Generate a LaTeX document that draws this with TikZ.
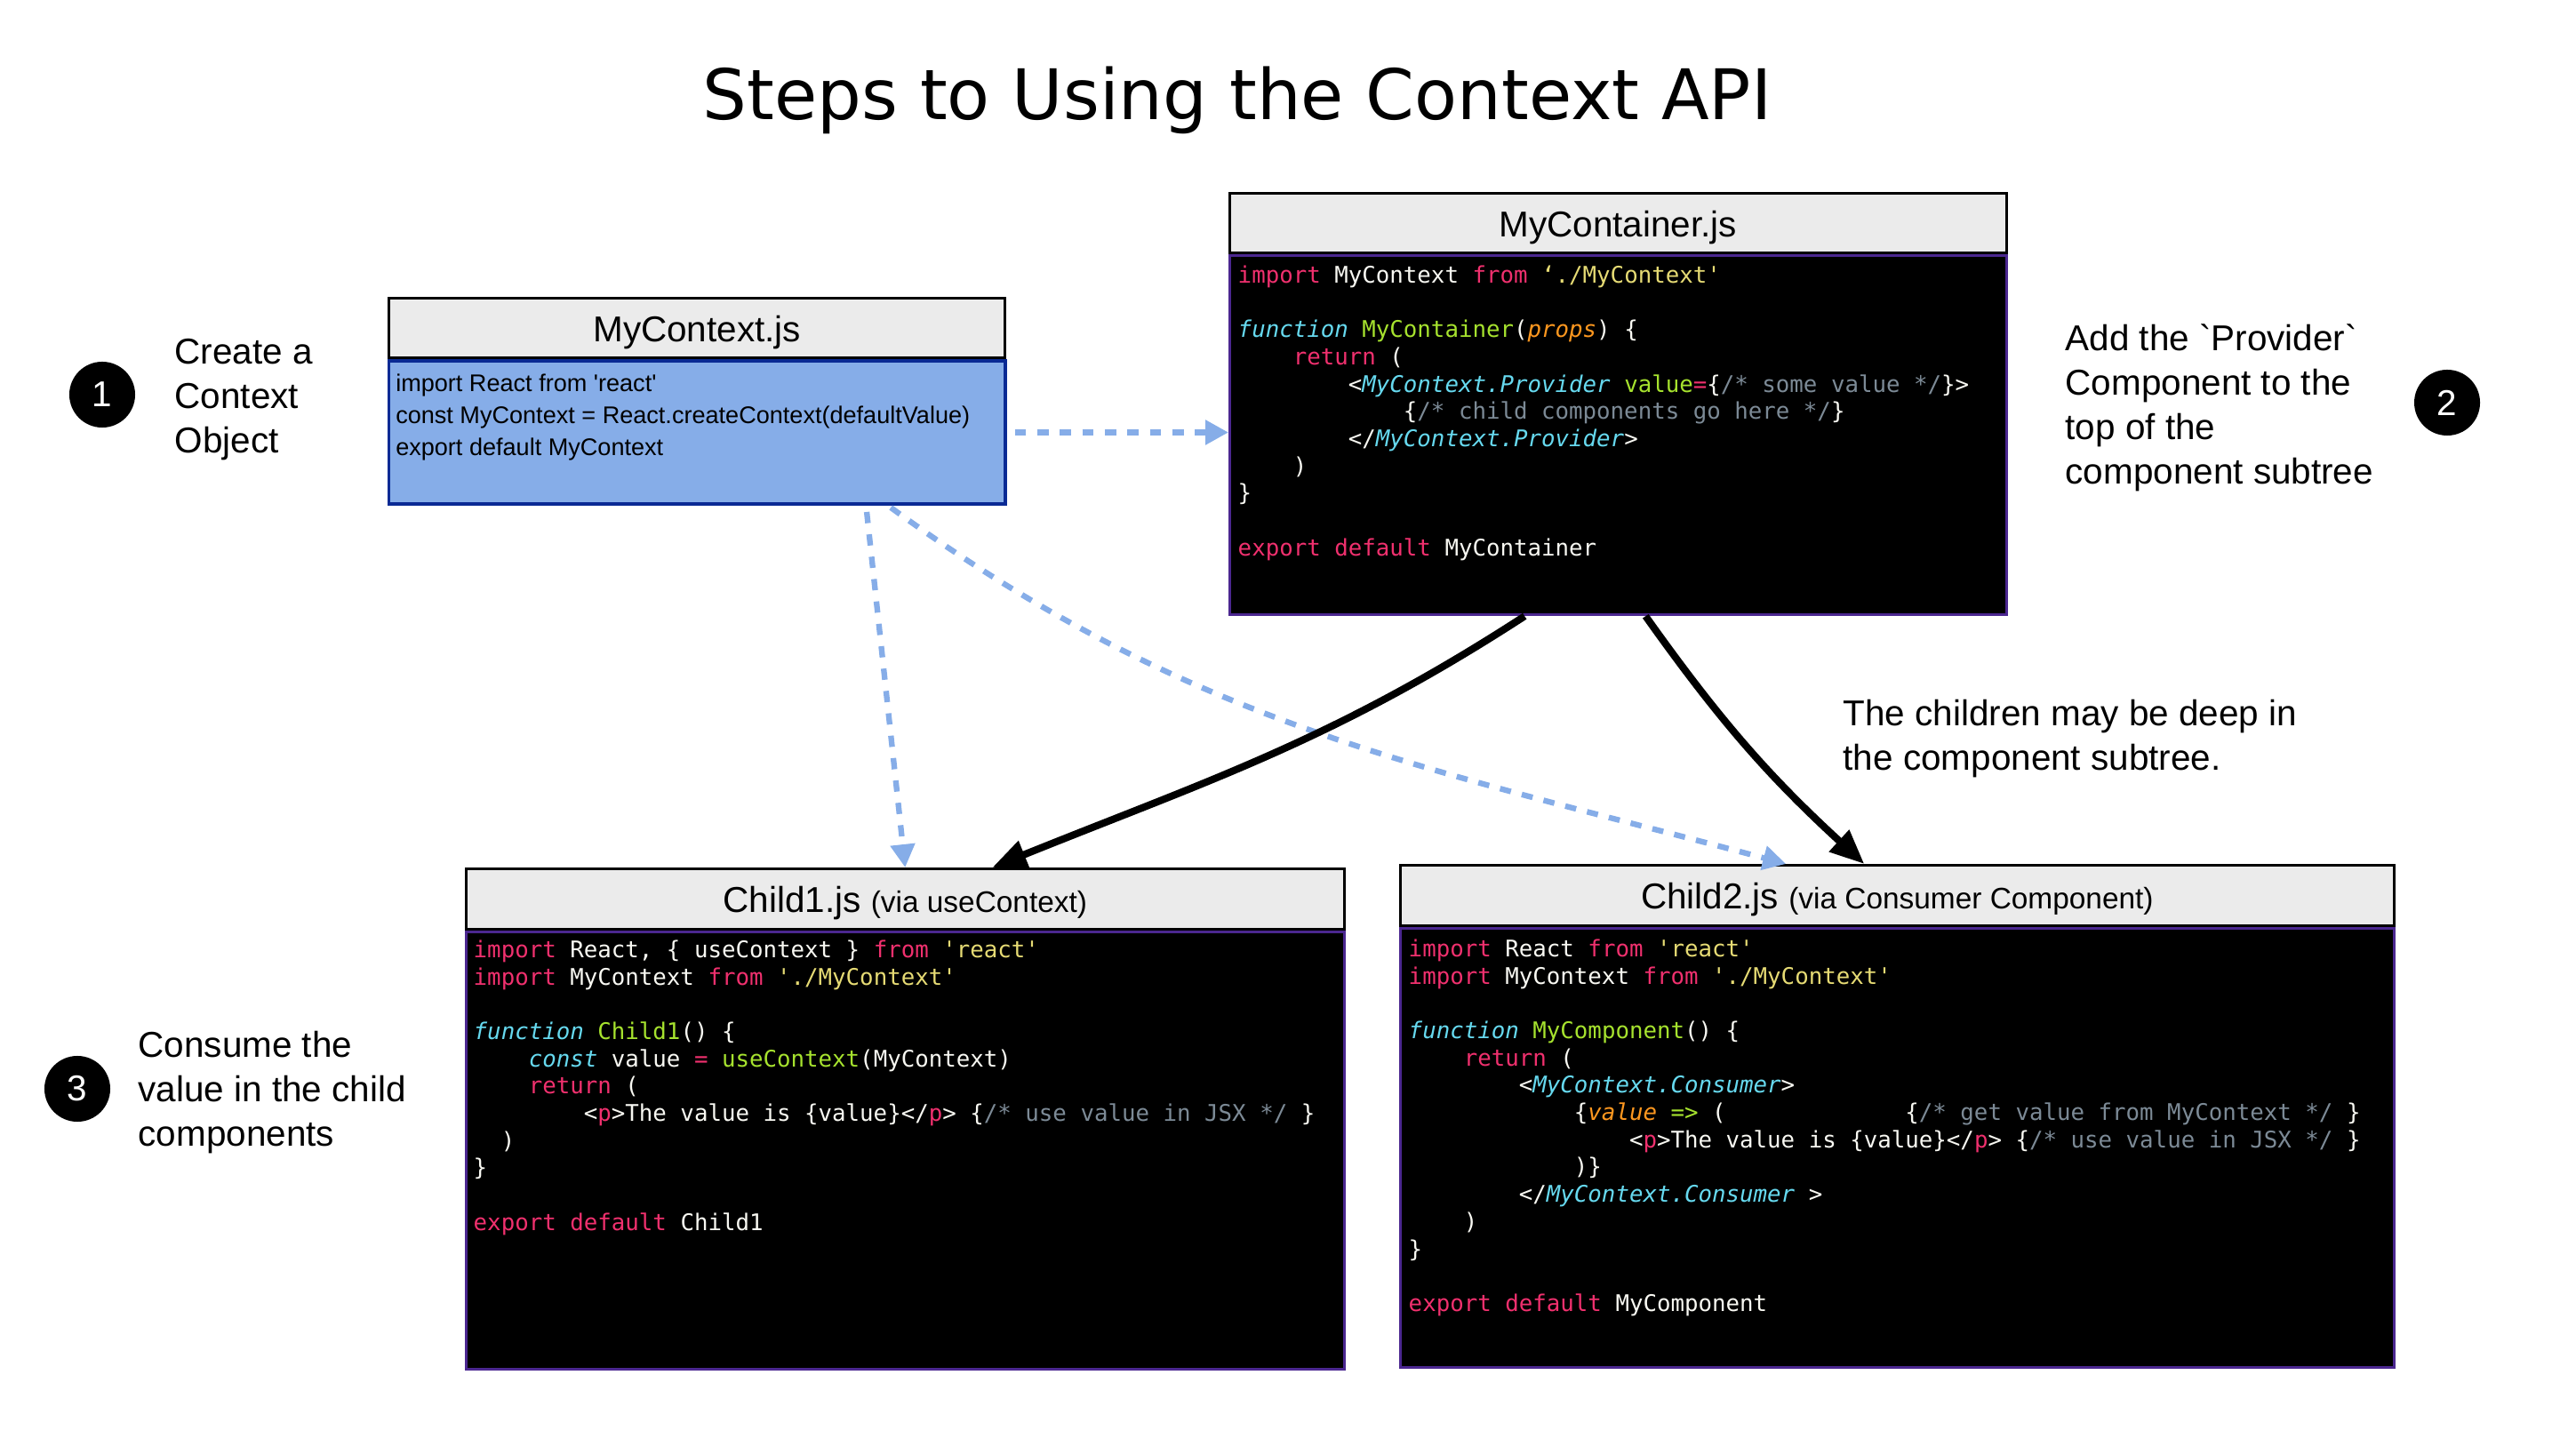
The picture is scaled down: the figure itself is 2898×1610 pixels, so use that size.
\documentclass[tikz,border=0pt]{standalone}
\usepackage{fontspec}
\usetikzlibrary{arrows.meta,positioning}

\newfontfamily\labelfont{Liberation Sans}
\newfontfamily\titlefont{DejaVu Sans}
\newfontfamily\codefont{DejaVu Sans Mono}

\definecolor{headgray}{HTML}{EBEBEB}
\definecolor{ctxfill}{HTML}{86ADE8}
\definecolor{ctxedge}{HTML}{0A2A94}
\definecolor{codepurple}{HTML}{4B2790}
\definecolor{linkblue}{HTML}{86ADE8}
\definecolor{codewhite}{HTML}{F8F8F2}
\definecolor{kwpink}{HTML}{F0306E}
\definecolor{strgold}{HTML}{E6DB74}
\definecolor{fncyan}{HTML}{66D9EF}
\definecolor{fngreen}{HTML}{A6E22E}
\definecolor{prmorange}{HTML}{FD971F}
\definecolor{cmtgray}{HTML}{7C8A96}

% code colouring
\newcommand\kw[1]{\textcolor{kwpink}{#1}}
\newcommand\strg[1]{\textcolor{strgold}{#1}}
\newcommand\cfn[1]{\textcolor{fngreen}{#1}}
\newcommand\cit[1]{\textcolor{fncyan}{\itshape #1}}
\newcommand\prm[1]{\textcolor{prmorange}{\itshape #1}}
\newcommand\cmt[1]{\textcolor{cmtgray}{#1}}
\newcommand\pad[1]{\hspace*{#1\dimexpr 0.602em\relax}}

\tikzset{
  filehead/.style={draw=black, line width=0.85pt, fill=headgray, inner sep=0pt,
    text height=0.39cm, text depth=0.085cm,
    anchor=north west, font=\labelfont\fontsize{11.5}{13}\selectfont},
  codebody/.style={draw=codepurple, line width=0.85pt, fill=black, inner sep=0pt},
  codetext/.style={anchor=north west, inner sep=0pt, align=left, text=codewhite,
    font=\codefont\fontsize{7.33}{8.73}\selectfont},
  stepdot/.style={circle, fill=black, text=white, minimum size=0.74cm, inner sep=0pt,
    font=\labelfont\fontsize{11.5}{13}\selectfont},
  steptext/.style={anchor=west, align=left, inner sep=0pt,
    font=\labelfont\fontsize{11.5}{14.2}\selectfont},
  ctxlink/.style={draw=linkblue, line width=1.8pt, dash pattern=on 3.6pt off 3.6pt,
    -{Triangle[length=7.4pt,width=7.6pt]}},
  treelink/.style={draw=black, line width=2.3pt, -{Triangle[length=11pt,width=9pt]}}
}

\begin{document}
\begin{tikzpicture}[x=0.01cm,y=-0.01cm]
  \useasboundingbox (0,0) rectangle (2898,1610);

  \node[font=\titlefont\fontsize{22.3}{26}\selectfont] (title) at (1392,113) {Steps to Using the Context API};

  % step 1: the context object
  \node[stepdot] (dot1) at (115,444) {1};
  \node[steptext] (step1) at (196,450) {Create a\\Context\\Object};
  \node[filehead, minimum width=6.93cm, minimum height=0.67cm] (ctxhead) at (436,334) {MyContext.js};
  \node[draw=ctxedge, line width=1.1pt, fill=ctxfill, inner sep=0pt, minimum width=6.93cm,
    minimum height=1.61cm, below=0pt of ctxhead] (ctxbody) {};
  \node[anchor=north west, inner sep=0pt, align=left, font=\labelfont\fontsize{7.7}{10.2}\selectfont]
    (ctxcode) at ([xshift=0.09cm,yshift=-0.16cm]ctxbody.north west)
    {import React from 'react'\\const MyContext = React.createContext(defaultValue)\\export default MyContext};

  % step 2: the provider
  \node[filehead, minimum width=8.73cm, minimum height=0.67cm] (conthead) at (1382,216) {MyContainer.js};
  \node[codebody, minimum width=8.73cm, minimum height=4.04cm, below=0pt of conthead] (contbody) {};
  \node[codetext] (contcode) at ([xshift=0.1cm,yshift=-0.12cm]contbody.north west) {%
    \kw{import} MyContext \kw{from} \strg{‘./MyContext'}\\
    \mbox{}\\
    \cit{function} \cfn{MyContainer}(\prm{props}) \{\\
    \pad{4}\kw{return} (\\
    \pad{8}<\cit{MyContext.Provider} \cfn{value}\kw{=}\{\cmt{/* some value */}\}>\\
    \pad{12}\{\cmt{/* child components go here */}\}\\
    \pad{8}</\cit{MyContext.Provider}>\\
    \pad{4})\\
    \}\\
    \mbox{}\\
    \kw{export default} MyContainer};
  \node[stepdot] (dot2) at (2753,453) {2};
  \node[steptext] (step2) at (2323,459) {Add the `Provider`\\Component to the\\top of the\\component subtree};

  % step 3: the consumers
  \node[stepdot] (dot3) at (87,1225) {3};
  \node[steptext] (step3) at (155,1229) {Consume the\\value in the child\\components};
  \node[steptext] (deepnote) at (2073,831) {The children may be deep in\\the component subtree.};

  \node[filehead, minimum width=9.87cm, minimum height=0.68cm] (c1head) at (523,976)
    {Child1.js {\fontsize{9.5}{11}\selectfont(via useContext)}};
  \node[codebody, minimum width=9.87cm, minimum height=4.92cm, below=0pt of c1head] (c1body) {};
  \node[codetext] (c1code) at ([xshift=0.09cm,yshift=-0.1cm]c1body.north west) {%
    \kw{import} React, \{ useContext \} \kw{from} \strg{'react'}\\
    \kw{import} MyContext \kw{from} \strg{'./MyContext'}\\
    \mbox{}\\
    \cit{function} \cfn{Child1}() \{\\
    \pad{4}\cit{const} value \kw{=} \cfn{useContext}(MyContext)\\
    \pad{4}\kw{return} (\\
    \pad{8}<\kw{p}>The value is \{value\}</\kw{p}> \{\cmt{/* use value in JSX */} \}\\
    \pad{2})\\
    \}\\
    \mbox{}\\
    \kw{export default} Child1};

  \node[filehead, minimum width=11.17cm, minimum height=0.68cm] (c2head) at (1574,972)
    {Child2.js {\fontsize{9.5}{11}\selectfont(via Consumer Component)}};
  \node[codebody, minimum width=11.17cm, minimum height=4.94cm, below=0pt of c2head] (c2body) {};
  \node[codetext] (c2code) at ([xshift=0.1cm,yshift=-0.13cm]c2body.north west) {%
    \kw{import} React \kw{from} \strg{'react'}\\
    \kw{import} MyContext \kw{from} \strg{'./MyContext'}\\
    \mbox{}\\
    \cit{function} \cfn{MyComponent}() \{\\
    \pad{4}\kw{return} (\\
    \pad{8}<\cit{MyContext.Consumer}>\\
    \pad{12}\{\prm{value} \cfn{=>} (\pad{13}\{\cmt{/* get value from MyContext */} \}\\
    \pad{16}<\kw{p}>The value is \{value\}</\kw{p}> \{\cmt{/* use value in JSX */} \}\\
    \pad{12})\}\\
    \pad{8}</\cit{MyContext.Consumer} >\\
    \pad{4})\\
    \}\\
    \mbox{}\\
    \kw{export default} MyComponent};

  % links
  \draw[ctxlink, shorten <=2.5pt] (ctxbody.east) -- (ctxbody.east -| contbody.west);
  \draw[ctxlink, shorten <=2pt] ([xshift=1.9cm]ctxbody.south) -- (c1head.north);
  \draw[ctxlink, shorten <=1pt] ([xshift=2.15cm]ctxbody.south) to[out=-36,in=165] ([xshift=-1.25cm]c2head.north);
  \draw[treelink] ([xshift=-1.05cm]contbody.south) to[out=-147,in=22] ([xshift=0.98cm]c1head.north);
  \draw[treelink] ([xshift=0.31cm]contbody.south) to[bend right=6] ([xshift=-0.37cm]c2head.north);
\end{tikzpicture}
\end{document}
